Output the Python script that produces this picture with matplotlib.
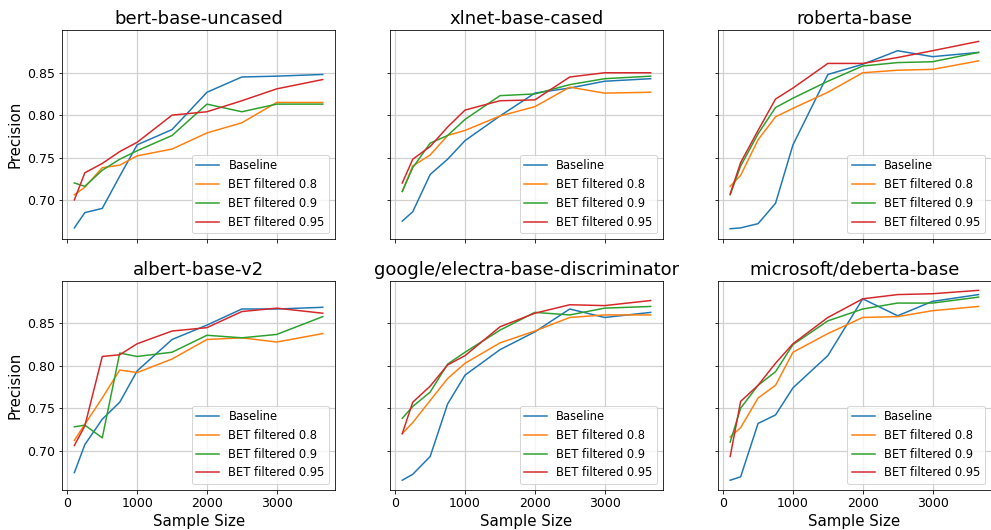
import matplotlib.pyplot as plt
import numpy as np

# tailles d'échantillon (axe x)
sample_sizes = [100, 250, 500, 750, 1000, 1500, 2000, 2500, 3000, 3660]

models = ["bert-base-uncased", "xlnet-base-cased", "roberta-base",
          "albert-base-v2", "google/electra-base-discriminator", "microsoft/deberta-base"]
series_names = ["Baseline", "BET filtered 0.8", "BET filtered 0.9", "BET filtered 0.95"]

bert_baseline = [0.667, 0.685, 0.690, 0.728, 0.765, 0.783, 0.827, 0.845, 0.846, 0.848]
bert_f08 = [0.706, 0.715, 0.738, 0.741, 0.752, 0.760, 0.779, 0.791, 0.815, 0.815]
bert_f09 = [0.720, 0.716, 0.735, 0.748, 0.758, 0.776, 0.813, 0.804, 0.813, 0.813]
bert_f095 = [0.700, 0.732, 0.743, 0.757, 0.768, 0.800, 0.804, 0.817, 0.831, 0.842]

xlnet_baseline = [0.675, 0.686, 0.730, 0.748, 0.770, 0.799, 0.826, 0.832, 0.840, 0.843]
xlnet_f08 = [0.710, 0.740, 0.753, 0.776, 0.782, 0.799, 0.810, 0.833, 0.826, 0.827]
xlnet_f09 = [0.710, 0.738, 0.767, 0.776, 0.795, 0.823, 0.825, 0.836, 0.843, 0.846]
xlnet_f095 = [0.720, 0.748, 0.763, 0.786, 0.806, 0.817, 0.818, 0.845, 0.850, 0.850]

roberta_baseline = [0.666, 0.667, 0.672, 0.696, 0.765, 0.848, 0.860, 0.876, 0.869, 0.874]
roberta_f08 = [0.716, 0.729, 0.771, 0.798, 0.808, 0.827, 0.850, 0.853, 0.854, 0.864]
roberta_f09 = [0.706, 0.740, 0.778, 0.809, 0.820, 0.840, 0.858, 0.862, 0.863, 0.874]
roberta_f095 = [0.707, 0.744, 0.782, 0.819, 0.832, 0.861, 0.861, 0.868, 0.876, 0.887]

albert_baseline = [0.674, 0.707, 0.737, 0.757, 0.794, 0.831, 0.848, 0.867, 0.867, 0.869]
albert_f08 = [0.712, 0.731, 0.762, 0.795, 0.792, 0.808, 0.831, 0.833, 0.828, 0.838]
albert_f09 = [0.728, 0.730, 0.715, 0.815, 0.811, 0.816, 0.836, 0.833, 0.837, 0.858]
albert_f095 = [0.706, 0.729, 0.811, 0.813, 0.826, 0.841, 0.845, 0.864, 0.868, 0.862]

electra_baseline = [0.665, 0.672, 0.693, 0.755, 0.789, 0.819, 0.840, 0.867, 0.857, 0.863]
electra_f08 = [0.720, 0.733, 0.759, 0.785, 0.803, 0.827, 0.841, 0.857, 0.860, 0.860]
electra_f09 = [0.738, 0.752, 0.769, 0.802, 0.816, 0.842, 0.863, 0.860, 0.868, 0.870]
electra_f095 = [0.720, 0.757, 0.776, 0.801, 0.812, 0.846, 0.862, 0.872, 0.871, 0.877]

deberta_baseline = [0.665, 0.669, 0.732, 0.742, 0.774, 0.812, 0.879, 0.859, 0.876, 0.884]
deberta_f08 = [0.716, 0.727, 0.762, 0.777, 0.816, 0.838, 0.857, 0.858, 0.865, 0.870]
deberta_f09 = [0.710, 0.750, 0.777, 0.793, 0.825, 0.853, 0.867, 0.874, 0.874, 0.881]
deberta_f095 = [0.693, 0.758, 0.777, 0.803, 0.826, 0.857, 0.879, 0.884, 0.885, 0.889]

resultados = [
    [bert_baseline, bert_f08, bert_f09, bert_f095],
    [xlnet_baseline, xlnet_f08, xlnet_f09, xlnet_f095],
    [roberta_baseline, roberta_f08, roberta_f09, roberta_f095],
    [albert_baseline, albert_f08, albert_f09, albert_f095],
    [electra_baseline, electra_f08, electra_f09, electra_f095],
    [deberta_baseline, deberta_f08, deberta_f09, deberta_f095],
]

# dpi 72: 1 pt = 1 px
fig, axes = plt.subplots(2, 3, figsize=(991 / 72, 530 / 72), dpi=72, sharex=True, sharey=True)
fig.subplots_adjust(left=0.0625, right=1.0, top=0.943, bottom=0.076, wspace=0.2, hspace=0.2)

for i, ax in enumerate(axes.flat):
    for nome, valores in zip(series_names, resultados[i]):
        ax.plot(sample_sizes, valores, label=nome, linewidth=1.5)
    ax.set_title(models[i], fontsize=18)
    ax.grid(True, color='#d0d0d0', linewidth=1.2)
    ax.set_axisbelow(True)
    ax.legend(loc='lower right', fontsize=11.5)
    ax.tick_params(labelsize=12.5)
    if i % 3 == 0:
        ax.set_ylabel('Precision', fontsize=15)
    if i >= 3:
        ax.set_xlabel('Sample Size', fontsize=15)

ax.set_xticks([0, 1000, 2000, 3000])
ax.set_yticks([0.70, 0.75, 0.80, 0.85])

fig.savefig('out.png', dpi=72)
